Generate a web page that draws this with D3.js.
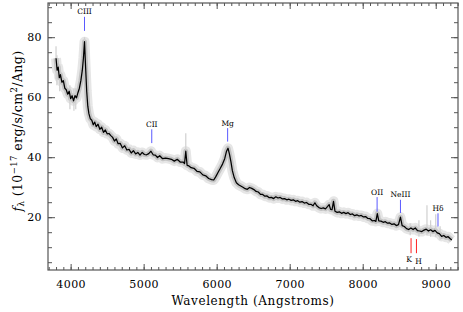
<!DOCTYPE html>
<html><head><meta charset="utf-8">
<script src="https://cdn.jsdelivr.net/npm/d3@7"></script>
<style>body{margin:0;background:#fff}svg{display:block}</style>
</head><body>
<svg id="c" width="463" height="312"></svg>
<script>
// ---- data ----
const wave = [3800,3815,3830,3845,3860,3880,3900,3920,3940,3960,3980,4000,4020,4040,4060,4080,4100,4120,4140,4160,4175,4190,4205,4220,4235,4250,4270,4290,4310,4330,4350,4375,4400,4425,4450,4475,4500,4525,4550,4575,4600,4625,4650,4680,4710,4740,4770,4800,4830,4860,4890,4920,4950,4980,5010,5040,5070,5100,5130,5160,5190,5220,5260,5300,5340,5380,5420,5460,5500,5540,5560,5577,5595,5620,5650,5690,5730,5770,5810,5850,5890,5930,5960,5990,6020,6050,6080,6110,6135,6155,6175,6195,6215,6240,6270,
  6300,6330,6360,6390,6420,6450,6480,6510,6540,6570,6600,6630,6660,6690,6720,6750,6780,6810,6840,6870,6900,6930,6960,6990,7020,7050,7080,7110,7140,7170,7200,7230,7260,7290,7320,7345,7370,7400,7430,7460,7490,7520,7540,7560,7580,7600,7620,7650,7680,7710,7740,7770,7800,7830,7860,7890,7920,7950,7980,8010,8040,8070,8100,8130,8160,8180,8200,8220,8250,8280,8310,8340,8370,8400,8430,8460,8490,8517,8540,8570,8600,8630,8660,8690,8720,8750,8780,8810,8840,8870,8900,8930,8960,8990,9020,9050,9080,9110,9140,9170,9200,9220];
const flux = [73,69,70,66.5,67.5,65,65.5,63,62.5,61,62,59.5,60.5,58.8,60.5,59.8,61.5,63,65.5,69,73,78.5,70,62,57,54.5,52.8,52.3,50.8,51.7,50.2,51,49.3,50,48.3,49.1,47.8,47.9,47.2,46.6,45.4,46.1,44.5,44.6,43.1,43.8,42.4,42.6,41.4,42.2,41.1,41.6,40.7,41.6,40.9,40.8,41.2,42,40.8,40.7,39.9,40.5,39.5,39.7,39.5,39.3,38.7,39.3,38.4,38.4,37.9,42,37.3,37.1,36.5,36.3,35.3,35.1,34.1,33.8,32.9,32.5,32.4,33.6,35,36.3,37.7,39.5,42,43,41,38.5,35.5,33.2,31.5,
  30.8,30.4,30.0,29.5,29.3,29.9,29.6,29.2,28.6,28.4,27.6,27.6,27.0,27.1,26.5,26.6,26.2,26.8,26.4,26.6,26.1,26.2,25.8,26.0,25.6,25.8,25.3,25.5,25.0,25.2,24.7,24.9,24.3,24.3,23.8,24.8,23.8,23.2,22.9,23.1,22.8,23.6,24.2,22.6,22.5,25.3,22.0,21.6,21.8,21.3,21.6,21.2,21.5,20.9,21.1,20.5,20.8,20.4,20.6,20.1,20.2,19.6,19.5,18.8,18.9,18.6,21.2,18.8,18.7,18.3,18.5,18.0,18.1,17.6,17.8,17.2,17.5,20.0,17.2,16.9,16.2,15.9,16.4,15.9,16.4,15.5,15.4,15.2,15.7,16.0,15.4,15.8,15.2,15.6,14.8,14.5,13.6,13.9,13.3,13.5,12.8,12.4];
// grey (unsmoothed) spikes: wavelength, low, high
const spikeWave = [3800,3812,3850,3990,4045,4070,4190,5577,8650,8770,8880,8930,9000,9060];
const spikeLow  = [66,64,62,56,55.5,56,74,37,14,13.5,14,13.5,13.5,12.5];
const spikeHigh = [77,74,71,64,63,63,80,48,18,19,24,19,21,17];
// emission / absorption line markers
const lineNames  = ["CIII","CII","Mg","OII","NeIII","Hδ"];
const lineWave   = [4190,5111,6150,8197,8517,9031];
const lineTop    = [86.8,49.3,49.7,26.7,25.8,21.3];
const lineBottom = [82.1,44.7,45.2,21.9,21.4,16.9];
const absNames   = ["K","H"];
const absWave    = [8662,8736];
const absTop     = [13,12.7];
const absBottom  = [8,8];
const xMajor = [4000,5000,6000,7000,8000,9000];
const yMajor = [20,40,60,80];

// ---- chart ----
const svg = d3.select("#c");
const L=48,R=458,T=3,B=270;
const x = d3.scaleLinear().domain([3690,9305]).range([L,R]);
const y = d3.scaleLinear().domain([2.4,91.4]).range([B,T]);
const pts = wave.map((w,i)=>[w,flux[i]]);
const line = d3.line().x(d=>x(d[0])).y(d=>y(d[1]));

// grey noise band
svg.append("path").attr("d",line(pts)).attr("fill","none").attr("stroke","#e6e6e6").attr("stroke-width",10).attr("stroke-linejoin","round");
svg.append("path").attr("d",line(pts)).attr("fill","none").attr("stroke","#c4c4c4").attr("stroke-width",5).attr("stroke-linejoin","round");
svg.append("g").selectAll("line").data(spikeWave).join("line")
  .attr("x1",(d)=>x(d)).attr("x2",(d)=>x(d))
  .attr("y1",(d,i)=>y(spikeLow[i])).attr("y2",(d,i)=>y(spikeHigh[i]))
  .attr("stroke","#d0d0d0").attr("stroke-width",1.2);
// spectrum
svg.append("path").attr("d",line(pts)).attr("fill","none").attr("stroke","#000").attr("stroke-width",1.25).attr("stroke-linejoin","round");

// markers
const mk = svg.append("g");
mk.selectAll("line.em").data(lineWave).join("line").attr("class","em")
  .attr("x1",d=>x(d)).attr("x2",d=>x(d))
  .attr("y1",(d,i)=>y(lineTop[i])).attr("y2",(d,i)=>y(lineBottom[i]))
  .attr("stroke","#5a5aff").attr("stroke-width",1);
mk.selectAll("text.em").data(lineNames).join("text").attr("class","em")
  .attr("x",(d,i)=>x(lineWave[i])).attr("y",(d,i)=>y(lineTop[i])-2.5)
  .attr("text-anchor","middle").attr("font-family","DejaVu Serif").attr("font-size",7.5)
  .text(d=>d);
mk.selectAll("line.ab").data(absWave).join("line").attr("class","ab")
  .attr("x1",d=>x(d)).attr("x2",d=>x(d))
  .attr("y1",(d,i)=>y(absTop[i])).attr("y2",(d,i)=>y(absBottom[i]))
  .attr("stroke","#ff2020").attr("stroke-width",1);
mk.selectAll("text.ab").data(absNames).join("text").attr("class","ab")
  .attr("x",(d,i)=>x(absWave[i])+(i===0?-2:2)).attr("y",(d,i)=>y(absBottom[i])+9+(i*1.5))
  .attr("text-anchor","middle").attr("font-family","DejaVu Serif").attr("font-size",7.5)
  .text(d=>d);

// axes
const ax = svg.append("g").attr("color","#555");
const minorX = d3.range(3700,9301,100), minorY = d3.range(5,91,5);
function styl(g){g.select(".domain").remove();g.selectAll("line").attr("stroke","#555");}
ax.append("g").attr("transform",`translate(0,${B})`).call(d3.axisBottom(x).tickValues(minorX).tickSize(-3).tickFormat("")).call(styl);
ax.append("g").attr("transform",`translate(0,${B})`).call(d3.axisBottom(x).tickValues(xMajor).tickSize(-6).tickPadding(10).tickFormat(d3.format("d"))).call(styl)
  .selectAll("text").attr("font-family","DejaVu Serif").attr("font-size",11).attr("fill","#000").attr("letter-spacing",0.4);
ax.append("g").attr("transform",`translate(0,${T})`).call(d3.axisTop(x).tickValues(minorX).tickSize(-3).tickFormat("")).call(styl);
ax.append("g").attr("transform",`translate(0,${T})`).call(d3.axisTop(x).tickValues(xMajor).tickSize(-6).tickFormat("")).call(styl);
ax.append("g").attr("transform",`translate(${L},0)`).call(d3.axisLeft(y).tickValues(minorY).tickSize(-4).tickFormat("")).call(styl);
ax.append("g").attr("transform",`translate(${L},0)`).call(d3.axisLeft(y).tickValues(yMajor).tickSize(-7).tickPadding(6).tickFormat(d3.format("d"))).call(styl)
  .selectAll("text").attr("font-family","DejaVu Serif").attr("font-size",11).attr("fill","#000").attr("letter-spacing",0.4);
ax.append("g").attr("transform",`translate(${R},0)`).call(d3.axisRight(y).tickValues(minorY).tickSize(-4).tickFormat("")).call(styl);
ax.append("g").attr("transform",`translate(${R},0)`).call(d3.axisRight(y).tickValues(yMajor).tickSize(-7).tickFormat("")).call(styl);
svg.append("rect").attr("x",L).attr("y",T).attr("width",R-L).attr("height",B-T).attr("fill","none").attr("stroke","#555").attr("stroke-width",1.2);

// axis titles
svg.append("text").attr("x",(L+R)/2).attr("y",305).attr("text-anchor","middle")
  .attr("font-family","DejaVu Serif").attr("font-size",12).attr("letter-spacing",0.6).text("Wavelength (Angstroms)");
const yt = svg.append("text").attr("transform",`translate(22,131) rotate(-90)`).attr("text-anchor","middle")
  .attr("font-family","DejaVu Serif").attr("font-size",12.5).attr("letter-spacing",0.4);
yt.append("tspan").attr("font-style","italic").text("f");
yt.append("tspan").attr("font-size",8.5).attr("dy",2).text("λ");
yt.append("tspan").attr("dy",-2).text(" (10");
yt.append("tspan").attr("font-size",8.5).attr("dy",-5).text("−17");
yt.append("tspan").attr("dy",5).text(" erg/s/cm");
yt.append("tspan").attr("font-size",8.5).attr("dy",-5).text("2");
yt.append("tspan").attr("dy",5).text("/Ang)");
</script>
</body></html>
